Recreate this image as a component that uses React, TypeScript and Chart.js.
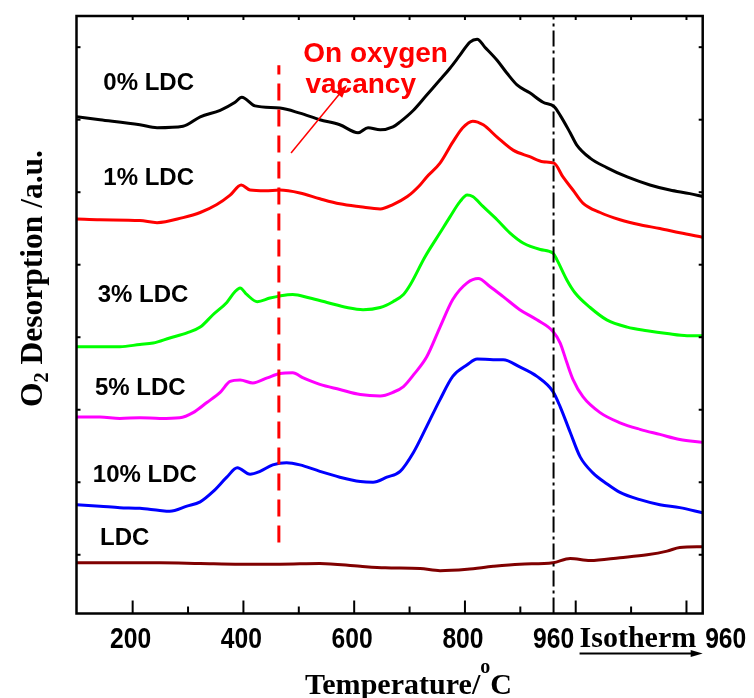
import React, { useEffect, useRef } from "react";
import { Chart, registerables } from "chart.js";

Chart.register(...registerables);

// ---- data (temperature-like x axis, arbitrary O2 desorption units) ----
const seriesNames = ["0% LDC", "1% LDC", "3% LDC", "5% LDC", "10% LDC", "LDC"];
const seriesColors = ["#000000", "#ff0000", "#00ff00", "#ff00ff", "#0000ff", "#800000"];

const ldc0T = [99, 141, 213, 244, 291, 322, 358, 385, 397, 421, 466, 502, 538, 574, 607, 625, 647, 670, 683, 707, 731, 755, 773, 791, 809, 822, 836, 858, 876, 894, 917, 941, 961, 972, 990, 1002, 1026, 1056, 1093, 1134, 1170, 1206, 1229];
const ldc0V = [6.04, 6.0, 5.93, 5.89, 5.91, 6.04, 6.13, 6.24, 6.31, 6.19, 6.16, 6.09, 6.0, 5.93, 5.82, 5.89, 5.86, 5.9, 5.97, 6.13, 6.34, 6.55, 6.71, 6.89, 7.07, 7.11, 7.0, 6.82, 6.64, 6.48, 6.37, 6.24, 6.18, 6.06, 5.82, 5.65, 5.47, 5.34, 5.21, 5.1, 5.03, 4.98, 4.94];

const ldc1T = [99, 141, 213, 244, 291, 322, 352, 376, 396, 412, 439, 466, 502, 538, 574, 611, 647, 670, 696, 719, 731, 755, 778, 796, 814, 833, 858, 887, 917, 941, 961, 977, 995, 1013, 1044, 1080, 1116, 1152, 1188, 1229];
const ldc1V = [4.63, 4.62, 4.61, 4.58, 4.65, 4.72, 4.83, 4.96, 5.1, 5.03, 5.02, 5.03, 4.99, 4.91, 4.84, 4.8, 4.77, 4.83, 4.94, 5.1, 5.21, 5.4, 5.69, 5.89, 5.98, 5.93, 5.76, 5.58, 5.49, 5.42, 5.4, 5.21, 5.03, 4.85, 4.72, 4.62, 4.55, 4.5, 4.44, 4.38];

const ldc3T = [99, 141, 177, 213, 237, 267, 298, 322, 345, 370, 385, 394, 406, 425, 448, 466, 489, 520, 551, 587, 616, 647, 670, 689, 701, 728, 755, 773, 791, 804, 814, 833, 858, 881, 905, 936, 959, 966, 984, 999, 1026, 1056, 1093, 1129, 1165, 1201, 1229];
const ldc3V = [2.87, 2.87, 2.87, 2.9, 2.92, 2.99, 3.06, 3.14, 3.31, 3.48, 3.63, 3.68, 3.59, 3.49, 3.54, 3.57, 3.59, 3.54, 3.48, 3.41, 3.38, 3.41, 3.49, 3.59, 3.72, 4.11, 4.44, 4.66, 4.87, 4.96, 4.94, 4.8, 4.62, 4.44, 4.3, 4.21, 4.16, 4.07, 3.79, 3.61, 3.41, 3.24, 3.14, 3.09, 3.05, 3.02, 3.02];

const ldc5T = [99, 141, 177, 213, 249, 285, 309, 334, 358, 376, 394, 417, 443, 466, 489, 508, 538, 574, 611, 647, 670, 689, 707, 731, 755, 778, 804, 824, 845, 869, 899, 930, 959, 972, 984, 995, 1013, 1044, 1080, 1116, 1152, 1188, 1229];
const ldc5V = [1.9, 1.9, 1.88, 1.89, 1.88, 1.89, 1.96, 2.1, 2.24, 2.39, 2.41, 2.37, 2.44, 2.5, 2.51, 2.44, 2.35, 2.28, 2.21, 2.19, 2.24, 2.32, 2.48, 2.73, 3.14, 3.52, 3.75, 3.81, 3.7, 3.56, 3.38, 3.24, 3.08, 2.92, 2.65, 2.42, 2.18, 1.96, 1.82, 1.73, 1.66, 1.59, 1.55];

const ldc10T = [99, 141, 177, 213, 249, 267, 298, 322, 345, 370, 389, 412, 430, 453, 478, 502, 538, 574, 611, 634, 659, 683, 707, 731, 755, 778, 804, 822, 851, 869, 899, 930, 959, 972, 990, 1008, 1031, 1056, 1080, 1116, 1152, 1188, 1229];
const ldc10V = [0.69, 0.67, 0.65, 0.64, 0.61, 0.6, 0.67, 0.73, 0.87, 1.07, 1.2, 1.11, 1.15, 1.24, 1.27, 1.24, 1.15, 1.07, 1.01, 1.0, 1.07, 1.15, 1.41, 1.77, 2.14, 2.46, 2.62, 2.7, 2.69, 2.69, 2.59, 2.46, 2.25, 2.04, 1.69, 1.35, 1.13, 0.98, 0.86, 0.76, 0.69, 0.65, 0.58];

const ldcT = [99, 177, 249, 322, 394, 466, 538, 611, 656, 719, 755, 804, 851, 899, 959, 990, 1026, 1080, 1129, 1165, 1188, 1229];
const ldcV = [-0.11, -0.11, -0.11, -0.12, -0.13, -0.13, -0.12, -0.16, -0.18, -0.19, -0.22, -0.2, -0.16, -0.13, -0.11, -0.05, -0.08, -0.04, 0.0, 0.05, 0.1, 0.11];

const seriesT = [ldc0T, ldc1T, ldc3T, ldc5T, ldc10T, ldcT];
const seriesV = [ldc0V, ldc1V, ldc3V, ldc5V, ldc10V, ldcV];

// axis ticks
const xTickLabelValues = [200, 400, 600, 800];
const isothermTemp = 960;
const isothermLabel = "960";
const isothermWord = "Isotherm";
const yTickValues = [0, 1, 2, 3, 4, 5, 6, 7];

// markers
const vacancyTemp = 464;
const vacancyRange = [0.17, 6.75];
const annotationLines = ["On oxygen", "vacancy"];

// layout constants (positions in data units, not data)
const X_MIN = 98.6;
const X_MAX = 1229.3;
const Y_MIN = -0.81;
const Y_MAX = 7.43;
const LABEL_POS = [
  [147, 6.41],
  [147, 5.1],
  [137, 3.49],
  [132, 2.21],
  [128, 1.01],
  [141, 0.14],
];
const ANNOT_POS = [
  [508, 6.8],
  [512, 6.37],
];
const ARROW_FROM = [486, 5.54];
const ARROW_TO = [587, 6.48];

const SANS = '"Liberation Sans", Arial, sans-serif';
const SERIF = '"Liberation Serif", "Times New Roman", serif';

function drawText(
  ctx: CanvasRenderingContext2D,
  s: string,
  x: number,
  y: number,
  font: string,
  align: CanvasTextAlign = "left",
  sx = 1,
  color = "#000"
) {
  ctx.save();
  ctx.font = font;
  ctx.fillStyle = color;
  ctx.textBaseline = "alphabetic";
  ctx.textAlign = align;
  ctx.translate(x, y);
  ctx.scale(sx, 1);
  ctx.fillText(s, 0, 0);
  ctx.restore();
}

function seg(ctx: CanvasRenderingContext2D, x1: number, y1: number, x2: number, y2: number) {
  ctx.beginPath();
  ctx.moveTo(x1, y1);
  ctx.lineTo(x2, y2);
  ctx.stroke();
}

const decorPlugin = {
  id: "decor",
  afterDatasetsDraw(chart: any) {
    const ctx: CanvasRenderingContext2D = chart.ctx;
    const a = chart.chartArea;
    const xs = chart.scales.x;
    const ys = chart.scales.y;
    ctx.save();
    ctx.strokeStyle = "#000";
    ctx.lineWidth = 2.5;
    ctx.strokeRect(a.left, a.top, a.right - a.left, a.bottom - a.top);

    // ticks
    ctx.lineWidth = 2;
    for (let t = 200; t <= 1200; t += 100) {
      const px = xs.getPixelForValue(t);
      const major = t % 200 === 0;
      seg(ctx, px, a.bottom, px, a.bottom - (major ? 13 : 7));
      seg(ctx, px, a.top, px, a.top + 4);
    }
    yTickValues.forEach((v) => {
      const py = ys.getPixelForValue(v);
      seg(ctx, a.left, py, a.left + 4, py);
      seg(ctx, a.right, py, a.right - 4, py);
    });

    // x tick labels
    const tickFont = `bold 29px ${SANS}`;
    const labY = a.bottom + 34;
    xTickLabelValues.forEach((t) => {
      drawText(ctx, String(t), xs.getPixelForValue(t) - 2, labY, tickFont, "center", 0.85);
    });
    const isoPx = xs.getPixelForValue(isothermTemp);
    drawText(ctx, isothermLabel, isoPx, labY, tickFont, "center", 0.85);
    drawText(ctx, isothermWord, isoPx + 26, labY - 1, `bold 30px ${SERIF}`, "left", 1);
    drawText(ctx, isothermLabel, a.right + 23, labY, tickFont, "center", 0.85);
    // isotherm arrow
    const ay = a.bottom + 40;
    ctx.lineWidth = 2;
    seg(ctx, isoPx + 26, ay, a.right - 8, ay);
    ctx.fillStyle = "#000";
    ctx.beginPath();
    ctx.moveTo(a.right, ay);
    ctx.lineTo(a.right - 12, ay - 3.5);
    ctx.lineTo(a.right - 12, ay + 3.5);
    ctx.closePath();
    ctx.fill();

    // x title: Temperature/°C with superscript o
    {
      const base = a.bottom + 80;
      const f1 = `bold 30px ${SERIF}`;
      const f2 = `bold 20px ${SERIF}`;
      ctx.font = f1;
      const w1 = ctx.measureText("Temperature/").width;
      const w3 = ctx.measureText("C").width;
      ctx.font = f2;
      const w2 = ctx.measureText("o").width;
      const total = w1 + w2 + w3;
      const sx = 207 / total;
      const left = 305;
      ctx.save();
      ctx.translate(left, base);
      ctx.scale(sx, 1);
      ctx.fillStyle = "#000";
      ctx.font = f1;
      ctx.fillText("Temperature/", 0, 0);
      ctx.font = f2;
      ctx.fillText("o", w1, -21);
      ctx.font = f1;
      ctx.fillText("C", w1 + w2, 0);
      ctx.restore();
    }

    // y title: O2 Desorption /a.u.
    {
      const f1 = `bold 31px ${SERIF}`;
      const f2 = `bold 20px ${SERIF}`;
      ctx.font = f1;
      const wO = ctx.measureText("O").width;
      const wR = ctx.measureText(" Desorption /a.u.").width;
      ctx.font = f2;
      const w2 = ctx.measureText("2").width;
      const sx = 257 / (wO + w2 + wR);
      ctx.save();
      ctx.translate(42, 407);
      ctx.rotate(-Math.PI / 2);
      ctx.scale(sx, 1);
      ctx.fillStyle = "#000";
      ctx.font = f1;
      ctx.fillText("O", 0, 0);
      ctx.font = f2;
      ctx.fillText("2", wO, 6);
      ctx.font = f1;
      ctx.fillText(" Desorption /a.u.", wO + w2, 0);
      ctx.restore();
    }

    // series labels
    seriesNames.forEach((name, i) => {
      const [t, v] = LABEL_POS[i];
      drawText(ctx, name, xs.getPixelForValue(t), ys.getPixelForValue(v), `bold 24px ${SANS}`);
    });

    // annotation
    annotationLines.forEach((s, i) => {
      const [t, v] = ANNOT_POS[i];
      drawText(ctx, s, xs.getPixelForValue(t), ys.getPixelForValue(v), `bold 28px ${SANS}`, "left", 1, "#ff0000");
    });
    const x1 = xs.getPixelForValue(ARROW_FROM[0]);
    const y1 = ys.getPixelForValue(ARROW_FROM[1]);
    const x2 = xs.getPixelForValue(ARROW_TO[0]);
    const y2 = ys.getPixelForValue(ARROW_TO[1]);
    const ang = Math.atan2(y2 - y1, x2 - x1);
    ctx.strokeStyle = "#ff0000";
    ctx.fillStyle = "#ff0000";
    ctx.lineWidth = 1.5;
    seg(ctx, x1, y1, x2 - 8 * Math.cos(ang), y2 - 8 * Math.sin(ang));
    ctx.beginPath();
    ctx.moveTo(x2, y2);
    ctx.lineTo(x2 - 13 * Math.cos(ang) + 4.5 * Math.sin(ang), y2 - 13 * Math.sin(ang) - 4.5 * Math.cos(ang));
    ctx.lineTo(x2 - 13 * Math.cos(ang) - 4.5 * Math.sin(ang), y2 - 13 * Math.sin(ang) + 4.5 * Math.cos(ang));
    ctx.closePath();
    ctx.fill();

    ctx.restore();
  },
};

export default function App() {
  const ref = useRef<HTMLCanvasElement>(null);

  useEffect(() => {
    if (!ref.current) return;
    const curveSets = seriesNames.map((name, i) => ({
      label: name,
      data: seriesT[i].map((t, k) => ({ x: t, y: seriesV[i][k] })),
      borderColor: seriesColors[i],
      backgroundColor: seriesColors[i],
      borderWidth: 3,
      pointRadius: 0,
      cubicInterpolationMode: "monotone" as const,
      fill: false,
    }));
    const markerSets = [
      {
        label: "vacancy",
        data: [
          { x: vacancyTemp, y: vacancyRange[0] },
          { x: vacancyTemp, y: vacancyRange[1] },
        ],
        borderColor: "#ff0000",
        borderWidth: 3,
        borderDash: [17, 9],
        pointRadius: 0,
        fill: false,
      },
      {
        label: "isotherm",
        data: [
          { x: isothermTemp, y: Y_MIN },
          { x: isothermTemp, y: Y_MAX },
        ],
        borderColor: "#000000",
        borderWidth: 2,
        borderDash: [16, 4, 3, 4],
        pointRadius: 0,
        fill: false,
      },
    ];
    const chart = new Chart(ref.current, {
      type: "line",
      data: { datasets: [...markerSets, ...curveSets] as any },
      options: {
        responsive: false,
        animation: false,
        devicePixelRatio: 1,
        layout: { padding: { left: 76.5, top: 16, right: 51.3, bottom: 84.5 } },
        plugins: { legend: { display: false }, tooltip: { enabled: false } },
        scales: {
          x: { type: "linear", min: X_MIN, max: X_MAX, display: false },
          y: { type: "linear", min: Y_MIN, max: Y_MAX, display: false },
        },
      },
      plugins: [decorPlugin],
    });
    return () => chart.destroy();
  }, []);

  return (
    <div style={{ position: "absolute", left: 0, top: 0, width: 754, height: 698, background: "#fff" }}>
      <canvas ref={ref} width={754} height={698} style={{ width: 754, height: 698 }} />
    </div>
  );
}
